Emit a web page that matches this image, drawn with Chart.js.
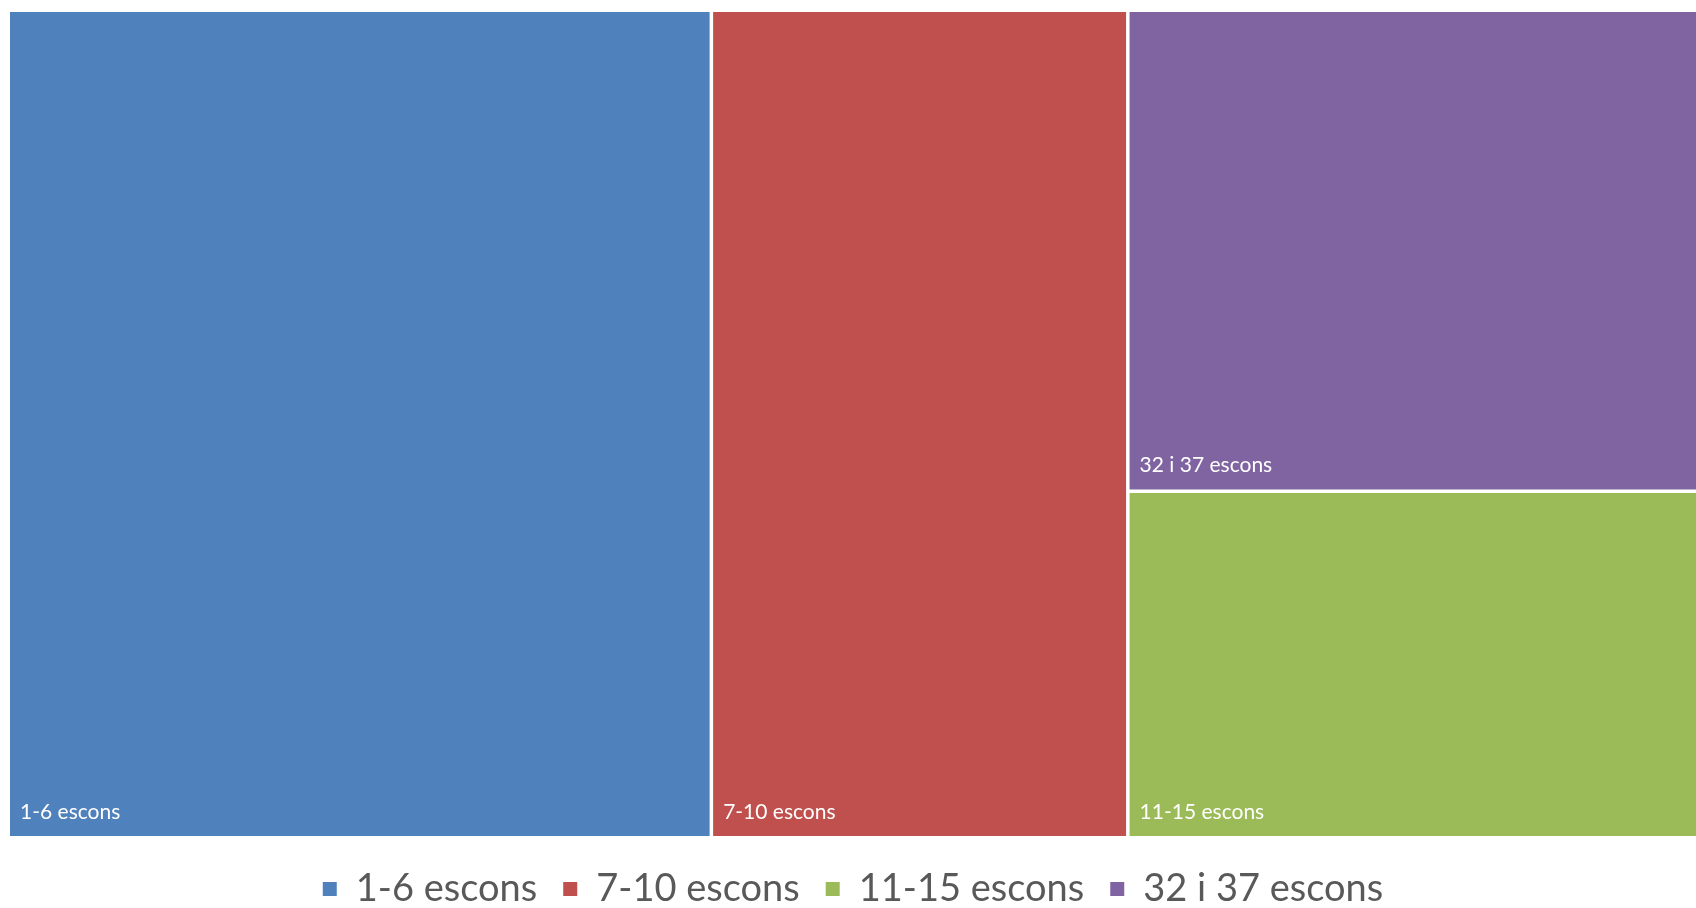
<!DOCTYPE html>
<html><head><meta charset="utf-8">
<script src="https://cdn.jsdelivr.net/npm/chart.js@4.4.1/dist/chart.umd.min.js"></script>
<style>html,body{margin:0;padding:0;background:#fff;} #wrap{width:1696px;height:908px;position:relative;}</style>
</head><body><div id="wrap"><canvas id="c"></canvas></div>
<script>
const categories = ['1-6 escons', '7-10 escons', '11-15 escons', '32 i 37 escons'];
const values = [41.6, 24.7, 14.1, 19.6];
const colors = ['#4F81BD', '#C0504D', '#9BBB59', '#8064A2'];

function worst(row, s) {
  const sum = row.reduce((a, r) => a + r.area, 0);
  const mx = Math.max(...row.map(r => r.area)), mn = Math.min(...row.map(r => r.area));
  return Math.max(s * s * mx / (sum * sum), (sum * sum) / (s * s * mn));
}
function squarify(items, x0, y0, w, h) {
  const out = [];
  let rest = items.slice();
  while (rest.length) {
    const s = Math.min(w, h);
    const row = [rest[0]];
    let i = 1;
    while (i < rest.length && worst(row.concat([rest[i]]), s) <= worst(row, s)) { row.push(rest[i]); i++; }
    rest = rest.slice(i);
    const sum = row.reduce((a, r) => a + r.area, 0);
    if (w >= h) {
      const cw = sum / h; let cy = y0;
      row.forEach(r => { const rh = r.area / cw; out.push(Object.assign({}, r, {x: x0, y: cy, w: cw, h: rh})); cy += rh; });
      x0 += cw; w -= cw;
    } else {
      const rh = sum / w; let cx = x0;
      row.forEach(r => { const rw = r.area / rh; out.push(Object.assign({}, r, {x: cx, y: y0, w: rw, h: rh})); cx += rw; });
      y0 += rh; h -= rh;
    }
  }
  return out;
}

const treemapPlugin = {
  id: 'treemap',
  afterDatasetsDraw(chart) {
    const {ctx, chartArea, scales} = chart;
    const W = chartArea.right - chartArea.left, H = chartArea.bottom - chartArea.top;
    const total = values.reduce((a, b) => a + b, 0);
    const items = values.map((v, i) => ({i, area: v / total * W * H}))
      .sort((a, b) => b.area - a.area);
    const rects = squarify(items, 0, 0, W, H);
    const g = 1.75, eps = 0.5;
    ctx.save();
    rects.forEach(r => {
      const x0 = scales.x.getPixelForValue(r.x / W), x1 = scales.x.getPixelForValue((r.x + r.w) / W);
      const y0 = scales.y.getPixelForValue(r.y / H), y1 = scales.y.getPixelForValue((r.y + r.h) / H);
      const l = x0 + (r.x > eps ? g : 0);
      const rt = x1 - (r.x + r.w < W - eps ? g : 0);
      const t = y0 + (r.y > eps ? g : 0);
      const b = y1 - (r.y + r.h < H - eps ? g : 0);
      ctx.fillStyle = colors[r.i];
      ctx.fillRect(l, t, rt - l, b - t);
      ctx.fillStyle = '#ffffff';
      ctx.font = '21px Lato';
      ctx.textBaseline = 'alphabetic';
      ctx.textAlign = 'left';
      ctx.fillText(categories[r.i], l + 10, b - 17);
    });
    ctx.restore();
  }
};

new Chart(document.getElementById('c'), {
  type: 'scatter',
  data: {
    datasets: categories.map((c, i) => ({label: c, data: [], backgroundColor: colors[i], borderColor: colors[i], borderWidth: 0}))
  },
  options: {
    responsive: true,
    maintainAspectRatio: false,
    animation: false,
    layout: {padding: {left: 10, top: 12, right: 0, bottom: -10}},
    scales: {
      x: {type: 'linear', min: 0, max: 1, display: false},
      y: {type: 'linear', min: 0, max: 1, reverse: true, display: false}
    },
    plugins: {
      tooltip: {enabled: false},
      legend: {
        position: 'bottom',
        title: {display: true, text: '', padding: 0, font: {size: 8, lineHeight: 1}},
        labels: {boxWidth: 14, boxHeight: 14, padding: 26, color: '#595959', font: {family: 'Lato', size: 38}}
      }
    }
  },
  plugins: [treemapPlugin]
});
</script>
</body></html>
